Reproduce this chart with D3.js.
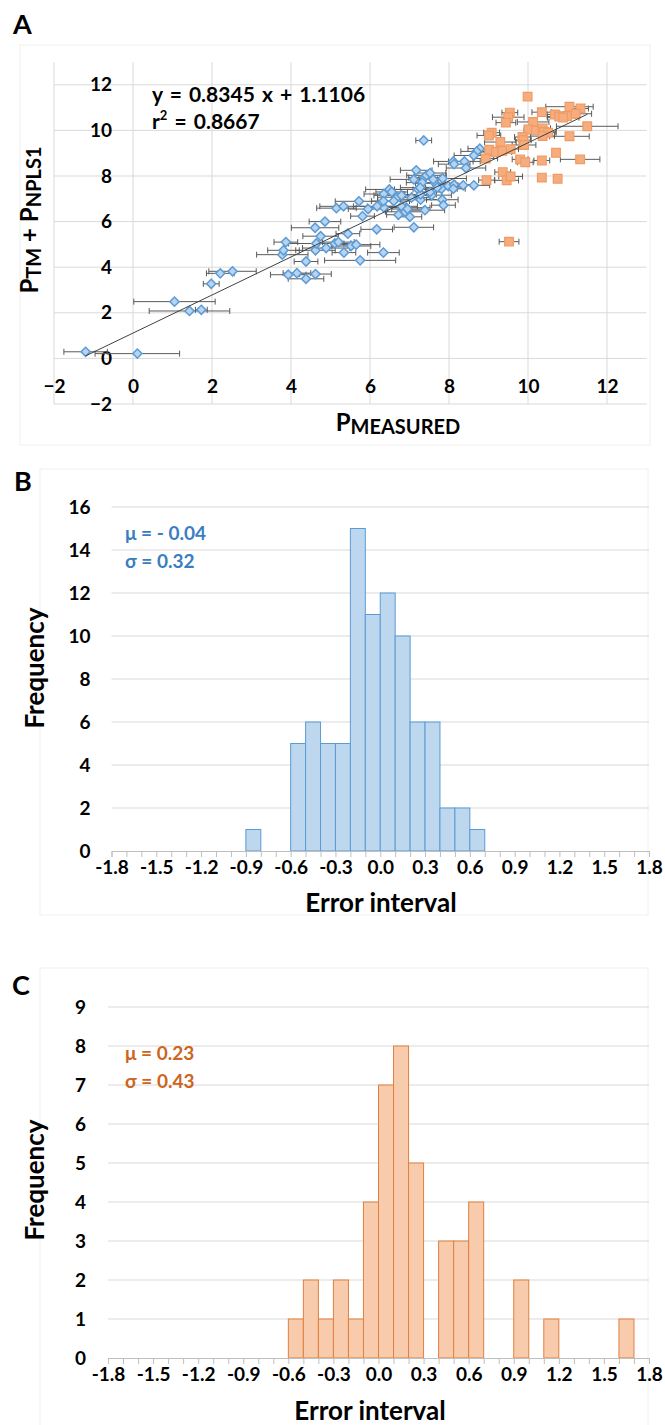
<!DOCTYPE html>
<html>
<head>
<meta charset="utf-8">
<script src="https://cdn.jsdelivr.net/npm/d3@7"></script>
<style>
  body { margin: 0; background: #fff; }
  svg { font-family: Lato, "Open Sans", sans-serif; font-weight: bold; }
</style>
</head>
<body>
<svg id="fig" width="665" height="1425"></svg>
<script>
// ---- panel A data ----
const ticksA = [-2, 0, 2, 4, 6, 8, 10, 12];
const blueX = [-1.20, 0.11, 1.05, 1.43, 1.73, 1.98, 2.21, 2.52, 3.78, 3.81, 3.87, 3.93, 4.15, 4.38, 4.38, 4.62, 4.62, 4.64, 4.89, 5.11,
  4.61, 4.86, 4.75, 5.34, 5.52, 5.65, 5.44, 5.75, 5.81, 5.15, 5.33, 5.72, 6.17, 6.34, 7.11, 6.49, 6.35, 6.69, 6.80, 7.28,
  7.83, 7.86, 7.39, 6.92, 6.80, 6.89, 7.01, 6.72, 6.35, 6.18, 6.34, 6.95, 7.22, 7.56, 7.28, 7.17, 7.11, 7.38, 7.43, 7.52,
  7.32, 7.65, 7.84, 7.98, 8.13, 8.11, 8.36, 8.63, 7.27, 7.81, 7.36, 8.78, 8.70, 8.63, 8.39, 8.11, 8.13, 8.43, 7.52, 7.05,
  6.55, 7.60, 6.60, 7.70, 5.95, 5.20];
const blueY = [0.29, 0.21, 2.49, 2.08, 2.13, 3.27, 3.73, 3.82, 4.55, 4.74, 5.10, 3.67, 3.74, 3.49, 4.25, 3.70, 4.74, 5.04, 4.84, 5.04,
  5.73, 6.00, 5.36, 4.64, 4.93, 4.99, 5.47, 4.30, 6.24, 6.59, 6.67, 6.89, 5.66, 4.64, 5.75, 7.41, 7.21, 7.07, 7.15, 6.96,
  6.96, 6.72, 6.50, 6.61, 6.67, 6.43, 6.21, 6.30, 6.62, 6.67, 6.90, 6.55, 7.41, 7.16, 7.19, 8.25, 7.85, 7.93, 8.03, 8.13,
  7.71, 7.68, 7.89, 7.56, 7.62, 7.44, 7.59, 7.59, 7.49, 7.44, 9.56, 9.20, 9.08, 8.90, 8.64, 8.64, 8.52, 8.35, 7.30, 7.05,
  7.30, 7.85, 6.90, 7.50, 6.55, 5.10];
const blueErr = [0.55, 1.07, 1.03, 1.02, 0.15, 0.2, 0.35, 0.6, 0.65, 0.4, 0.3, 0.45, 0.35, 0.45, 0.3, 0.4, 0.5, 0.7, 0.6, 0.4,
  0.6, 0.4, 0.45, 0.3, 0.5, 0.6, 0.3, 0.9, 0.3, 0.5, 0.6, 0.6, 0.4, 0.4, 0.5, 0.6, 0.5, 0.5, 0.7, 0.5,
  0.4, 0.3, 0.5, 0.6, 0.4, 0.5, 0.3, 0.3, 0.4, 0.6, 0.3, 0.4, 0.6, 0.5, 0.4, 0.4, 0.6, 0.4, 0.5, 0.4,
  0.4, 0.5, 0.6, 0.3, 0.5, 0.3, 0.3, 0.4, 0.5, 0.4, 0.2, 0.3, 0.4, 0.5, 0.4, 0.5, 0.4, 0.5, 0.3, 0.5,
  0.4, 0.3, 0.4, 0.3, 0.5, 0.4];

const orangeX = [9.99, 11.05, 11.33, 10.35, 10.68, 10.79, 10.99, 11.21, 10.89, 9.54, 9.50, 9.44, 10.13, 11.50, 10.01, 10.20, 10.37, 10.41, 10.51, 10.37,
  11.05, 9.08, 9.01, 9.86, 9.88, 9.30, 9.90, 9.02, 9.19, 9.35, 9.56, 8.93, 10.71, 9.80, 9.93, 10.35, 11.32, 9.36, 8.95, 9.46,
  9.56, 10.35, 10.75, 9.52];
const orangeY = [11.48, 11.04, 10.96, 10.80, 10.70, 10.61, 10.63, 10.73, 10.56, 10.78, 10.58, 10.34, 10.37, 10.18, 10.04, 10.00, 10.09, 9.94, 9.90, 9.75,
  9.74, 9.90, 9.78, 9.71, 9.57, 9.49, 9.36, 9.15, 9.05, 9.11, 9.18, 8.77, 9.02, 8.73, 8.60, 8.68, 8.73, 8.17, 7.82, 7.81,
  7.98, 7.93, 7.88, 5.12];
const orangeErr = [0, 0.6, 0.2, 0.25, 0.2, 0.3, 0.2, 0.4, 0.4, 0.2, 0.4, 0.25, 0.4, 0.78, 0, 0.3, 0.2, 0.3, 0.2, 0.3,
  0.5, 0.2, 0.3, 0.2, 0.2, 0.4, 0.3, 0.2, 0.4, 0.2, 0.2, 0.3, 0, 0.2, 0.2, 0.2, 0.5, 0.2, 0.2, 0.3,
  0.3, 0, 0, 0.25];

const fitSlope = 0.8345, fitIntercept = 1.1106;

// ---- panel B / C data (bins of width 0.1, only non-empty ones) ----
const binLabels = ["-1.8", "-1.5", "-1.2", "-0.9", "-0.6", "-0.3", "0.0", "0.3", "0.6", "0.9", "1.2", "1.5", "1.8"];
const binsB = [-0.9, -0.6, -0.5, -0.4, -0.3, -0.2, -0.1, 0.0, 0.1, 0.2, 0.3, 0.4, 0.5, 0.6];
const countsB = [1, 5, 6, 5, 5, 15, 11, 12, 10, 6, 6, 2, 2, 1];
const binsC = [-0.6, -0.5, -0.4, -0.3, -0.2, -0.1, 0.0, 0.1, 0.2, 0.4, 0.5, 0.6, 0.9, 1.1, 1.6];
const countsC = [1, 2, 1, 2, 1, 4, 7, 8, 5, 3, 3, 4, 2, 1, 1];
const ticksB = [0, 2, 4, 6, 8, 10, 12, 14, 16];
const ticksC = [0, 1, 2, 3, 4, 5, 6, 7, 8, 9];

const svg = d3.select("#fig");
const gridColor = "#d9d9d9";
const tickFont = 19;

// faint chart-area frames
[[20, 45, 630, 400], [40, 469, 608, 446], [40, 968, 608, 470]].forEach(r => {
  svg.append("rect").attr("x", r[0]).attr("y", r[1]).attr("width", r[2]).attr("height", r[3])
    .attr("fill", "none").attr("stroke", "#f0f0f0");
});

// ================= Panel A =================
const xA = d3.scaleLinear().domain([-2, 13]).range([54, 646.5]);
const yA = d3.scaleLinear().domain([-2, 13]).range([404, 62]);
const gA = svg.append("g");

gA.append("g").selectAll("line").data(ticksA).join("line")
  .attr("x1", d => xA(d)).attr("x2", d => xA(d)).attr("y1", yA(13)).attr("y2", yA(-2))
  .attr("stroke", gridColor);
gA.append("g").selectAll("line").data(ticksA).join("line")
  .attr("x1", xA(-2)).attr("x2", xA(13)).attr("y1", d => yA(d)).attr("y2", d => yA(d))
  .attr("stroke", gridColor);

const axA_x = gA.append("g").attr("transform", `translate(0,${yA(0)})`)
  .call(d3.axisBottom(xA).tickValues(ticksA).tickSize(0).tickPadding(21));
const axA_y = gA.append("g").attr("transform", `translate(${xA(0)},0)`)
  .call(d3.axisLeft(yA).tickValues(ticksA).tickSize(0).tickPadding(21));
[axA_x, axA_y].forEach(a => {
  a.select(".domain").remove();
  a.selectAll("text").attr("font-size", tickFont).attr("fill", "#000").attr("font-family", "Lato");
});

function errorBars(g, xs, ys, es) {
  const d = xs.map((x, i) => ({ x, y: ys[i], e: es[i] })).filter(p => p.e > 0);
  const eg = g.append("g").attr("stroke", "#5a5a5a").attr("stroke-width", 1);
  eg.selectAll(".eb").data(d).join("line")
    .attr("x1", p => xA(p.x - p.e)).attr("x2", p => xA(p.x + p.e))
    .attr("y1", p => yA(p.y)).attr("y2", p => yA(p.y));
  eg.selectAll(".capl").data(d).join("line")
    .attr("x1", p => xA(p.x - p.e)).attr("x2", p => xA(p.x - p.e))
    .attr("y1", p => yA(p.y) - 3).attr("y2", p => yA(p.y) + 3);
  eg.selectAll(".capr").data(d).join("line")
    .attr("x1", p => xA(p.x + p.e)).attr("x2", p => xA(p.x + p.e))
    .attr("y1", p => yA(p.y) - 3).attr("y2", p => yA(p.y) + 3);
}
errorBars(gA, blueX, blueY, blueErr);
errorBars(gA, orangeX, orangeY, orangeErr);

const diamond = d3.symbol().type(d3.symbolSquare).size(42)();
gA.append("g").selectAll("path").data(blueX.map((x, i) => [x, blueY[i]])).join("path")
  .attr("d", diamond)
  .attr("transform", d => `translate(${xA(d[0])},${yA(d[1])}) rotate(45)`)
  .attr("fill", "#b8d3ef").attr("stroke", "#5b9bd5").attr("stroke-width", 1.5);

const square = d3.symbol().type(d3.symbolSquare).size(76)();
gA.append("g").selectAll("path").data(orangeX.map((x, i) => [x, orangeY[i]])).join("path")
  .attr("d", square)
  .attr("transform", d => `translate(${xA(d[0])},${yA(d[1])})`)
  .attr("fill", "#f5ad80").attr("stroke", "#f09b62").attr("stroke-width", 1.2);

// linear trend line across the measured range
const allX = blueX.concat(orangeX);
const ext = d3.extent(allX);
gA.append("line")
  .attr("x1", xA(ext[0])).attr("y1", yA(fitSlope * ext[0] + fitIntercept))
  .attr("x2", xA(ext[1])).attr("y2", yA(fitSlope * ext[1] + fitIntercept))
  .attr("stroke", "#404040").attr("stroke-width", 1);

gA.append("text").attr("x", 152).attr("y", 102).attr("font-size", 21).attr("word-spacing", 2)
  .text("y = 0.8345 x + 1.1106");
const r2 = gA.append("text").attr("x", 152).attr("y", 129).attr("font-size", 21).attr("word-spacing", 2);
r2.append("tspan").text("r");
r2.append("tspan").attr("font-size", 13).attr("dy", -9).text("2");
r2.append("tspan").attr("dy", 9).text(" = 0.8667");

const xlabA = gA.append("text").attr("x", 398).attr("y", 431).attr("text-anchor", "middle").attr("font-size", 24);
xlabA.append("tspan").text("P");
xlabA.append("tspan").attr("font-size", 20).attr("dy", 3).text("MEASURED");

const ylabA = gA.append("text").attr("transform", "translate(38,220) rotate(-90)")
  .attr("text-anchor", "middle").attr("font-size", 24);
ylabA.append("tspan").text("P");
ylabA.append("tspan").attr("font-size", 20).attr("dy", 3).text("TM");
ylabA.append("tspan").attr("dy", -3).text(" + P");
ylabA.append("tspan").attr("font-size", 20).attr("dy", 3).text("NPLS1");

svg.append("text").attr("x", 13).attr("y", 34).attr("font-size", 27).text("A");

// ================= Histograms =================
function histogram(opt) {
  const g = svg.append("g");
  const x = d3.scaleLinear().domain([-1.8, 1.8]).range(opt.xr);
  const y = d3.scaleLinear().domain([0, opt.ymax]).range(opt.yr);

  g.append("g").selectAll("line").data(opt.yticks.filter(d => d > 0)).join("line")
    .attr("x1", opt.xr[0]).attr("x2", opt.xr[1]).attr("y1", d => y(d)).attr("y2", d => y(d))
    .attr("stroke", gridColor);

  const w = x(-1.7) - x(-1.8);
  g.append("g").selectAll("rect").data(opt.bins.map((b, i) => [b, opt.counts[i]])).join("rect")
    .attr("x", d => x(d[0])).attr("width", w)
    .attr("y", d => y(d[1])).attr("height", d => y(0) - y(d[1]))
    .attr("fill", opt.fill).attr("stroke", opt.stroke).attr("stroke-width", 1);

  // minor ticks at every bin edge
  const minor = g.append("g").attr("transform", `translate(0,${y(0)})`)
    .call(d3.axisBottom(x).tickValues(d3.range(-18, 19).map(i => i / 10)).tickSize(6).tickFormat(""));
  minor.selectAll("line, .domain").attr("stroke", "#bfbfbf");

  const lab = g.append("g").attr("transform", `translate(0,${y(0)})`)
    .call(d3.axisBottom(x).tickValues(binLabels.map(Number)).tickSize(0).tickPadding(10)
      .tickFormat((d, i) => binLabels[i]));
  lab.select(".domain").remove();
  lab.selectAll("text").attr("font-size", tickFont).attr("fill", "#000").attr("font-family", "Lato");

  const ax = g.append("g").attr("transform", `translate(${opt.xr[0]},0)`)
    .call(d3.axisLeft(y).tickValues(opt.yticks).tickSize(0).tickPadding(opt.ypad));
  ax.select(".domain").remove();
  ax.selectAll("text").attr("font-size", tickFont).attr("fill", "#000").attr("font-family", "Lato");

  g.append("text").attr("transform", `translate(${opt.flx},${opt.fly}) rotate(-90)`)
    .attr("text-anchor", "middle").attr("font-size", 26).text("Frequency");
  g.append("text").attr("x", opt.elx).attr("y", opt.ely).attr("text-anchor", "middle")
    .attr("font-size", 26).text("Error interval");

  g.append("text").attr("x", 125).attr("y", opt.mu).attr("font-size", 19).attr("fill", opt.tc).text(opt.muText);
  g.append("text").attr("x", 125).attr("y", opt.mu + 28).attr("font-size", 19).attr("fill", opt.tc).text(opt.sdText);

  svg.append("text").attr("x", opt.lx).attr("y", opt.ly).attr("font-size", 27).text(opt.letter);
}

histogram({
  xr: [111.5, 649], yr: [851, 507], ymax: 16, yticks: ticksB, ypad: 21,
  bins: binsB, counts: countsB, fill: "#bdd7ee", stroke: "#5b9bd5",
  flx: 44, fly: 668, elx: 381, ely: 912,
  mu: 540, muText: "\u03bc = - 0.04", sdText: "\u03c3 = 0.32", tc: "#3a7dc0",
  letter: "B", lx: 14, ly: 491
});

histogram({
  xr: [108, 649], yr: [1358, 1007], ymax: 9, yticks: ticksC, ypad: 22,
  bins: binsC, counts: countsC, fill: "#f8cbad", stroke: "#e0803f",
  flx: 44, fly: 1180, elx: 370, ely: 1420,
  mu: 1060, muText: "\u03bc = 0.23", sdText: "\u03c3 = 0.43", tc: "#cd6420",
  letter: "C", lx: 12, ly: 995
});
</script>
</body>
</html>
